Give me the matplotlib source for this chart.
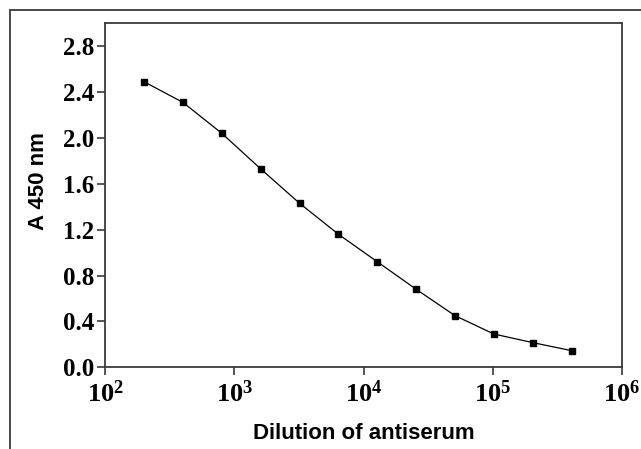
import matplotlib as mpl
import matplotlib.pyplot as plt
from matplotlib.patches import Rectangle

mpl.rcParams.update({
    "mathtext.fontset": "custom",
    "mathtext.rm": "Liberation Serif:bold",
    "mathtext.it": "Liberation Serif:bold",
    "mathtext.bf": "Liberation Serif:bold",
})

# dilution series and absorbance read at 450 nm
dilution = [200, 400, 800, 1600, 3200, 6400, 12800, 25600, 51200, 102400, 204800, 409600]
absorbance = [2.49, 2.31, 2.04, 1.73, 1.43, 1.16, 0.92, 0.68, 0.45, 0.29, 0.215, 0.145]

x_ticks = [1e2, 1e3, 1e4, 1e5, 1e6]
x_tick_labels = [r"$10^{2}$", r"$10^{3}$", r"$10^{4}$", r"$10^{5}$", r"$10^{6}$"]
y_ticks = [0.0, 0.4, 0.8, 1.2, 1.6, 2.0, 2.4, 2.8]
y_tick_labels = ["0.0", "0.4", "0.8", "1.2", "1.6", "2.0", "2.4", "2.8"]

frame_col = "#3a3a3a"

fig = plt.figure(figsize=(6.41, 4.49), dpi=100)

# outer box around the whole panel
fig.patches.append(Rectangle((10 / 641, -0.1), 1.2, 1 - 10 / 449 + 0.1,
                             transform=fig.transFigure, fill=False,
                             edgecolor=frame_col, linewidth=1.3))

ax = fig.add_axes([0.1643, 0.182, 0.9699 - 0.1643, 0.948 - 0.182])

ax.plot(dilution, absorbance, color="black", linewidth=0.9,
        marker="s", markersize=5, markerfacecolor="black", markeredgecolor="black")

ax.set_xscale("log")
ax.set_xlim(1e2, 1e6)
ax.set_ylim(0, 3.0)

ax.set_xticks(x_ticks)
ax.set_xticklabels(x_tick_labels)
ax.minorticks_off()
ax.set_yticks(y_ticks)
ax.set_yticklabels(y_tick_labels)

for lab in ax.get_yticklabels():
    lab.set_fontfamily("Liberation Serif")
    lab.set_fontweight("bold")
    lab.set_fontsize(18)
for lab in ax.get_xticklabels():
    lab.set_fontsize(19)

ax.tick_params(axis="both", direction="out", length=6, width=1.2, color=frame_col)
ax.tick_params(axis="y", pad=2)
ax.tick_params(axis="x", pad=4)
for sp in ax.spines.values():
    sp.set_color(frame_col)
    sp.set_linewidth(1.3)

ax.set_xlabel("Dilution of antiserum", fontfamily="Liberation Sans",
              fontweight="bold", fontsize=16, labelpad=11)
ax.set_ylabel("A 450 nm", fontfamily="Liberation Sans",
              fontweight="bold", fontsize=16)
# label sits a little above the axis centre in the original
ax.yaxis.set_label_coords(-0.11, 0.54)

fig.savefig("out.png", dpi=100)
